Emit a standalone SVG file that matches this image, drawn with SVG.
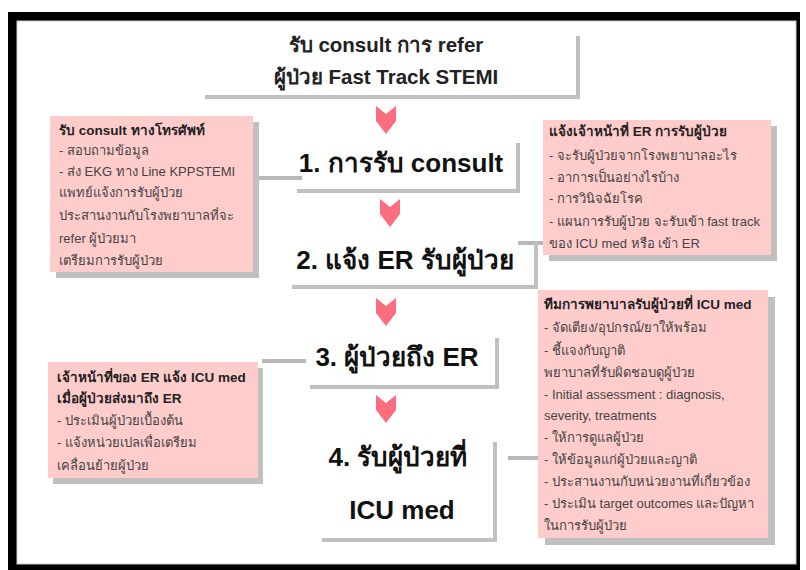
<svg xmlns="http://www.w3.org/2000/svg" width="806" height="570" viewBox="0 0 806 570">
<style>
.frame{fill:#000}
.pink{fill:#ffcccc}
.shadow{fill:#c0c0c0}
.sl{stroke:#c0c0c0;stroke-width:4;fill:none}
.conn{stroke:#b8b8b8;stroke-width:4;fill:none}
.arrow{fill:#fa6e7e}
.bt{font-family:"Liberation Sans","Noto Sans",sans-serif;font-size:13px;fill:#444}
.bt .b{font-weight:bold;fill:#222;font-size:13.5px}
.step{font-family:"Liberation Sans","Noto Sans",sans-serif;font-size:26px;font-weight:bold;fill:#111;text-anchor:middle}
.title{font-family:"Liberation Sans","Noto Sans",sans-serif;font-size:20.5px;font-weight:bold;fill:#222;text-anchor:middle}
</style>
<defs>
<path id="chev" d="M-10,0 L0,8 L10,0 L10,15 L0,28 L-10,15 Z"/>
</defs>
<rect width="806" height="570" fill="#fff"/>
<path class="frame" fill-rule="evenodd" d="M8,12 H800 V570 H8 Z M17,21 V564 H796 V21 Z"/>
<rect x="17" y="21" width="779" height="543" fill="none" stroke="#ccc" stroke-width="1"/>

<g id="title">
<path class="sl" d="M578,36 V97 H205"/>
<text class="title" x="386" y="52">รับ consult การ refer</text>
<text class="title" x="386" y="84">ผู้ป่วย Fast Track STEMI</text>
</g>

<g id="connectors">
<path class="conn" d="M258,178 H302"/>
<path class="conn" d="M518,243 H543"/>
<path class="conn" d="M262,361 H306"/>
<path class="conn" d="M508,458 H538"/>
</g>

<g id="arrows">
<use href="#chev" class="arrow" x="386" y="106"/>
<use href="#chev" class="arrow" x="390" y="199"/>
<use href="#chev" class="arrow" x="386" y="298"/>
<use href="#chev" class="arrow" x="386" y="395"/>
</g>

<g id="step1">
<path class="sl" d="M518,143 V191 H297"/>
<text class="step" x="401" y="172">1. การรับ consult</text>
</g>
<g id="step2">
<path class="sl" d="M536,242 V287 H292"/>
<text class="step" x="405" y="269">2. แจ้ง ER รับผู้ป่วย</text>
</g>
<g id="step3">
<path class="sl" d="M497,338 V387 H310"/>
<text class="step" x="397" y="366">3. ผู้ป่วยถึง ER</text>
</g>
<g id="step4">
<path class="sl" d="M495,442 V540 H322"/>
<text class="step" x="398" y="466">4. รับผู้ป่วยที่</text>
<text class="step" x="402" y="519">ICU med</text>
</g>

<g id="left1">
<rect class="shadow" x="56" y="122" width="203" height="156"/>
<rect class="pink" x="50" y="116" width="203" height="156"/>
<text class="bt">
<tspan class="b" x="59" y="135">รับ consult ทางโทรศัพท์</tspan>
<tspan x="59" y="155">- สอบถามข้อมูล</tspan>
<tspan x="59" y="176">- ส่ง EKG ทาง Line KPPSTEMI</tspan>
<tspan x="59" y="197">แพทย์แจ้งการรับผู้ป่วย</tspan>
<tspan x="59" y="220">ประสานงานกับโรงพยาบาลที่จะ</tspan>
<tspan x="59" y="243">refer ผู้ป่วยมา</tspan>
<tspan x="59" y="265">เตรียมการรับผู้ป่วย</tspan>
</text>
</g>

<g id="right1">
<rect class="shadow" x="549" y="126" width="228" height="135"/>
<rect class="pink" x="543" y="120" width="228" height="135"/>
<text class="bt">
<tspan class="b" x="549" y="136">แจ้งเจ้าหน้าที่ ER การรับผู้ป่วย</tspan>
<tspan x="549" y="160">- จะรับผู้ป่วยจากโรงพยาบาลอะไร</tspan>
<tspan x="549" y="182">- อาการเป็นอย่างไรบ้าง</tspan>
<tspan x="549" y="203">- การวินิจฉัยโรค</tspan>
<tspan x="549" y="226">- แผนการรับผู้ป่วย จะรับเข้า fast track</tspan>
<tspan x="549" y="248">ของ ICU med หรือ เข้า ER</tspan>
</text>
</g>

<g id="left2">
<rect class="shadow" x="53" y="368" width="210" height="116"/>
<rect class="pink" x="48" y="362" width="210" height="116"/>
<text class="bt">
<tspan class="b" x="57" y="382">เจ้าหน้าที่ของ ER แจ้ง ICU med</tspan>
<tspan class="b" x="57" y="403">เมื่อผู้ป่วยส่งมาถึง ER</tspan>
<tspan x="57" y="425">- ประเมินผู้ป่วยเบื้องต้น</tspan>
<tspan x="57" y="447">- แจ้งหน่วยเปลเพื่อเตรียม</tspan>
<tspan x="57" y="470">เคลื่อนย้ายผู้ป่วย</tspan>
</text>
</g>

<g id="right2">
<rect class="shadow" x="545" y="297" width="230" height="248"/>
<rect class="pink" x="538" y="290" width="230" height="248"/>
<text class="bt">
<tspan class="b" x="544" y="309">ทีมการพยาบาลรับผู้ป่วยที่ ICU med</tspan>
<tspan x="544" y="332">-  จัดเตียง/อุปกรณ์/ยาให้พร้อม</tspan>
<tspan x="544" y="355">-  ชี้แจงกับญาติ</tspan>
<tspan x="544" y="377">พยาบาลที่รับผิดชอบดูผู้ป่วย</tspan>
<tspan x="544" y="399">-  Initial assessment : diagnosis,</tspan>
<tspan x="544" y="420">severity, treatments</tspan>
<tspan x="544" y="442">- ให้การดูแลผู้ป่วย</tspan>
<tspan x="544" y="464">- ให้ข้อมูลแก่ผู้ป่วยและญาติ</tspan>
<tspan x="544" y="486">- ประสานงานกับหน่วยงานที่เกี่ยวข้อง</tspan>
<tspan x="544" y="508">- ประเมิน target outcomes และปัญหา</tspan>
<tspan x="544" y="530">ในการรับผู้ป่วย</tspan>
</text>
</g>
</svg>
